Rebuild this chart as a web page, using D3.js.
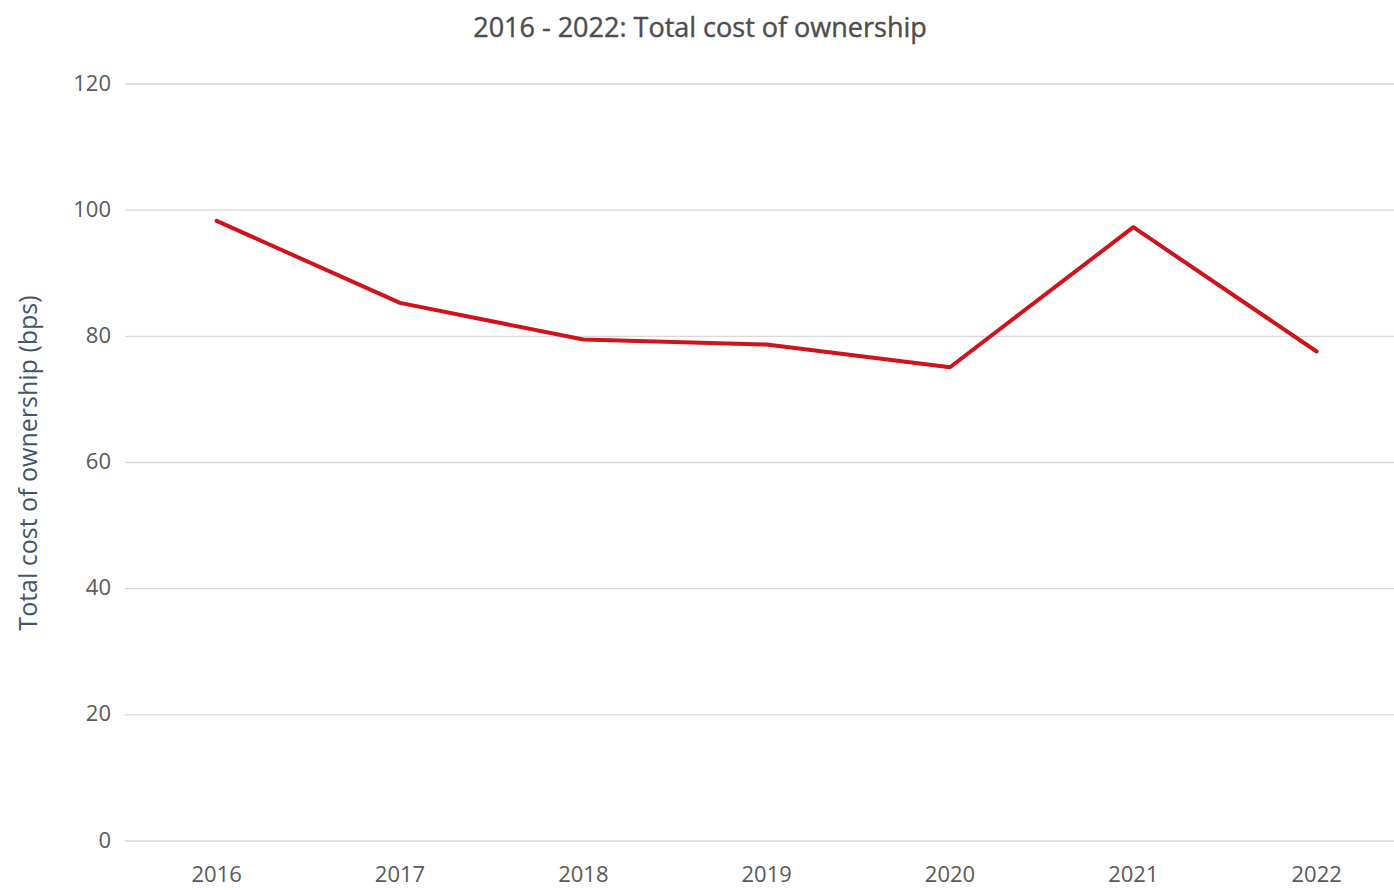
<!DOCTYPE html>
<html>
<head>
<meta charset="utf-8">
<script src="https://cdn.jsdelivr.net/npm/d3@7"></script>
<style>
  body { margin: 0; background: #fff; }
  text { font-family: "Open Sans", Lato, sans-serif; }
</style>
</head>
<body>
<div id="chart"></div>
<script>
const years = ["2016", "2017", "2018", "2019", "2020", "2021", "2022"]
const costs = [98.3, 85.3, 79.5, 78.7, 75.1, 97.3, 77.6]
const yTicks = [0, 20, 40, 60, 80, 100, 120]

const width = 1394, height = 890
const plotLeft = 125, plotTop = 84, plotBottom = 841

const svg = d3.select("#chart")
  .append("svg")
  .attr("width", width)
  .attr("height", height)

const x = d3.scalePoint()
  .domain(years)
  .range([plotLeft, plotLeft + 7 * 183.33])
  .padding(0.5)

const y = d3.scaleLinear()
  .domain([0, 120])
  .range([plotBottom, plotTop])

// gridlines
svg.append("g")
  .selectAll("line")
  .data(yTicks)
  .enter()
  .append("line")
  .attr("x1", plotLeft)
  .attr("x2", width)
  .attr("y1", d => y(d))
  .attr("y2", d => y(d))
  .attr("stroke", "#d9d9d9")
  .attr("stroke-width", 1.3)

// y tick labels
svg.append("g")
  .selectAll("text")
  .data(yTicks)
  .enter()
  .append("text")
  .attr("x", 111)
  .attr("y", d => y(d))
  .attr("dy", "0.3em")
  .attr("text-anchor", "end")
  .attr("font-size", 22)
  .attr("fill", "#595959")
  .text(d => d)

// x tick labels
svg.append("g")
  .selectAll("text")
  .data(years)
  .enter()
  .append("text")
  .attr("x", d => x(d))
  .attr("y", 882)
  .attr("text-anchor", "middle")
  .attr("font-size", 22)
  .attr("fill", "#595959")
  .text(d => d)

// title
svg.append("text")
  .attr("x", 700)
  .attr("y", 37)
  .attr("text-anchor", "middle")
  .attr("font-size", 27)
  .attr("fill", "#4d4d4d")
  .attr("stroke", "#4d4d4d")
  .attr("stroke-width", 0.4)
  .text("2016 - 2022: Total cost of ownership")

// y axis title
svg.append("text")
  .attr("transform", "translate(37," + 463 + ") rotate(-90)")
  .attr("text-anchor", "middle")
  .attr("font-size", 25)
  .attr("fill", "#44546a")
  .text("Total cost of ownership (bps)")

// line
const line = d3.line()
  .x((d, i) => x(years[i]))
  .y(d => y(d))

svg.append("path")
  .datum(costs)
  .attr("d", line)
  .attr("fill", "none")
  .attr("stroke", "#d0121b")
  .attr("stroke-width", 4)
  .attr("stroke-linecap", "round")
  .attr("stroke-linejoin", "round")
</script>
</body>
</html>
